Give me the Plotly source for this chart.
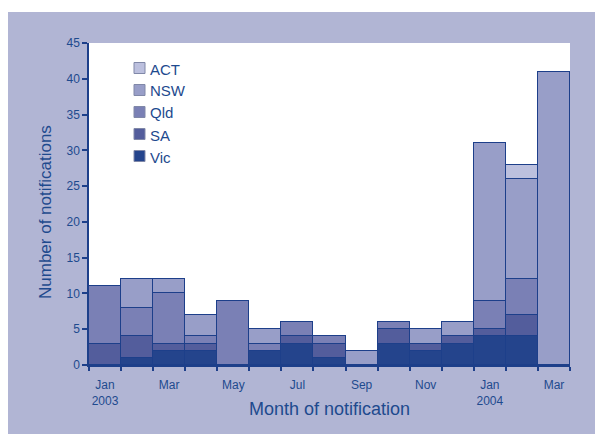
import plotly.graph_objects as go

months = ["Jan 2003", "Feb 2003", "Mar 2003", "Apr 2003", "May 2003", "Jun 2003",
          "Jul 2003", "Aug 2003", "Sep 2003", "Oct 2003", "Nov 2003", "Dec 2003",
          "Jan 2004", "Feb 2004", "Mar 2004"]
vic = [0, 1, 2, 2, 0, 2, 3, 1, 0, 3, 2, 3, 4, 4, 0]
sa = [3, 3, 1, 1, 0, 0, 1, 2, 0, 2, 1, 1, 1, 3, 0]
qld = [8, 4, 7, 1, 9, 1, 2, 1, 0, 1, 0, 0, 4, 5, 0]
nsw = [0, 4, 2, 3, 0, 2, 0, 0, 2, 0, 2, 2, 22, 14, 41]
act = [0, 0, 0, 0, 0, 0, 0, 0, 0, 0, 0, 0, 0, 2, 0]

tick_labels = ["Jan<br>2003", "Mar", "May", "Jul", "Sep", "Nov", "Jan<br>2004", "Mar"]
y_ticks = [0, 5, 10, 15, 20, 25, 30, 35, 40, 45]

series = [("Vic", vic, "#24448c"), ("SA", sa, "#535d9c"), ("Qld", qld, "#7a80b5"),
          ("NSW", nsw, "#989ec8"), ("ACT", act, "#bcc0de")]

TXT = "#1e4a8e"
LINE = "#1d3f8a"
BG = "#b1b5d4"
FONT = "Liberation Sans, Arial, sans-serif"

xpos = list(range(len(months)))

fig = go.Figure()
for name, vals, col in series:
    fig.add_trace(go.Bar(x=xpos, y=vals, name=name, width=1,
                         marker=dict(color=col, line=dict(color=LINE, width=1.5)),
                         hovertext=months))

OFF = 8  # page body margin
W, H = 603 - OFF, 434 - OFF
# plot area in page pixels: x 89..570, y 43..365
PL, PR, PT, PB = 89, 570, 43, 365
L, R, T, B = PL - OFF, (603 - PR), PT - OFF, (434 - PB)
pw, ph = PR - PL, PB - PT

def px_x(p):
    return (p - PL) / pw

def px_y(p):
    return (PB - p) / ph

shapes = [
    dict(type="rect", xref="paper", yref="paper", x0=px_x(0), x1=px_x(610),
         y0=px_y(440), y1=px_y(12), fillcolor=BG, line=dict(width=0), layer="below"),
    dict(type="rect", xref="paper", yref="paper", x0=0, x1=1, y0=0, y1=1,
         fillcolor="white", line=dict(width=0), layer="below"),
]

annotations = []
# custom legend (top to bottom: ACT ... Vic)
leg = list(reversed(series))
for i, (name, vals, col) in enumerate(leg):
    cy = 68 + 22 * i
    shapes.append(dict(type="rect", xref="paper", yref="paper",
                       x0=px_x(134), x1=px_x(145), y0=px_y(cy + 5.5), y1=px_y(cy - 5.5),
                       fillcolor=col, line=dict(color="#8088a8", width=1)))
    annotations.append(dict(text=name, xref="paper", yref="paper", x=px_x(148), y=px_y(cy + 1),
                            xanchor="left", yanchor="middle", showarrow=False,
                            font=dict(size=15, color=TXT, family=FONT)))

annotations.append(dict(text="Number of notifications", xref="paper", yref="paper",
                        x=px_x(45), y=px_y(212), textangle=-90, showarrow=False,
                        xanchor="center", yanchor="middle",
                        font=dict(size=17, color=TXT, family=FONT)))
annotations.append(dict(text="Month of notification", xref="paper", yref="paper",
                        x=px_x(329), y=px_y(409), showarrow=False,
                        xanchor="center", yanchor="middle",
                        font=dict(size=18, color=TXT, family=FONT)))

fig.update_layout(
    width=W, height=H, margin=dict(l=L, r=R, t=T, b=B),
    barmode="stack", bargap=0, showlegend=False,
    paper_bgcolor="white", plot_bgcolor="white",
    font=dict(family=FONT, color=TXT, size=12),
    shapes=shapes, annotations=annotations,
    xaxis=dict(range=[-0.5, len(months) - 0.5], tickmode="array",
               tickvals=xpos[::2], ticktext=tick_labels, ticks="",
               ticklabelstandoff=8,
               showline=True, linecolor=LINE, linewidth=1.5, showgrid=False, zeroline=False,
               minor=dict(tickmode="linear", tick0=-0.5, dtick=1, ticks="outside",
                          ticklen=4, tickcolor=LINE, tickwidth=1.5, showgrid=False),
               tickfont=dict(size=12, color=TXT)),
    yaxis=dict(range=[0, 45], tickmode="array", tickvals=y_ticks, ticks="outside",
               ticklen=5, tickcolor=LINE, tickwidth=1.5, showline=True, linecolor=LINE,
               linewidth=1.5, showgrid=False, zeroline=False,
               tickfont=dict(size=12, color=TXT)),
)

fig.write_html("out.html")
